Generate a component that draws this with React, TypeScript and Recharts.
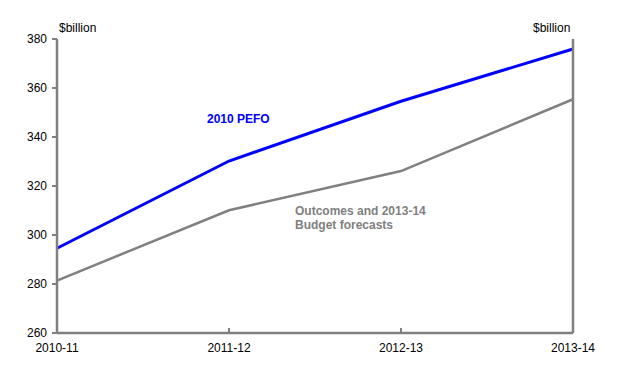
import React from "react";
import { LineChart, Line, XAxis, YAxis } from "recharts";

const years = ["2010-11", "2011-12", "2012-13", "2013-14"];
const pefo2010 = [294.6, 330.2, 354.6, 375.9];
const outcomes = [281.4, 310.1, 326.1, 355.4];
const yTicks = [260, 280, 300, 320, 340, 360, 380];

const AXIS = "#808080";
const FONT = "'Liberation Sans', Arial, sans-serif";

const chartData = years.map((y, i) => ({
  year: y,
  pefo: pefo2010[i],
  outcomes: outcomes[i],
}));

const tickStyle = { fill: "#000", fontSize: 12, fontFamily: FONT };

export default function App() {
  return (
    <div style={{ position: "absolute", left: 0, top: 0, width: 631, height: 379, background: "#fff", fontFamily: FONT }}>
      <LineChart
        width={631}
        height={379}
        data={chartData}
        margin={{ top: 39, right: 0, bottom: 0, left: 0 }}
      >
        <XAxis
          dataKey="year"
          height={46}
          padding={{ left: 0, right: 0 }}
          axisLine={{ stroke: AXIS, strokeWidth: 2.5 }}
          tickLine={{ stroke: AXIS, strokeWidth: 2 }}
          tickSize={-5}
          tickMargin={15}
          tick={tickStyle}
          interval={0}
        />
        <YAxis
          yAxisId="left"
          orientation="left"
          width={57}
          domain={[260, 380]}
          ticks={yTicks}
          axisLine={{ stroke: AXIS, strokeWidth: 2.5 }}
          tickLine={{ stroke: AXIS, strokeWidth: 2 }}
          tickSize={5}
          tickMargin={5}
          tick={tickStyle}
          interval={0}
        />
        <YAxis
          yAxisId="right"
          orientation="right"
          width={58}
          domain={[260, 380]}
          ticks={yTicks}
          axisLine={{ stroke: AXIS, strokeWidth: 2.5 }}
          tickLine={{ stroke: AXIS, strokeWidth: 2 }}
          tickSize={-5}
          tickMargin={16}
          tick={tickStyle}
          interval={0}
        />
        <Line
          yAxisId="left"
          type="linear"
          dataKey="outcomes"
          stroke="#808080"
          strokeWidth={2.5}
          dot={false}
          isAnimationActive={false}
        />
        <Line
          yAxisId="left"
          type="linear"
          dataKey="pefo"
          stroke="#0000ff"
          strokeWidth={3}
          dot={false}
          isAnimationActive={false}
        />
      </LineChart>
      <div style={{ position: "absolute", left: 59, top: 21, fontSize: 12, color: "#000" }}>$billion</div>
      <div style={{ position: "absolute", left: 533, top: 21, fontSize: 12, color: "#000" }}>$billion</div>
      <div style={{ position: "absolute", left: 207, top: 112, fontSize: 12, fontWeight: "bold", color: "#0000ff" }}>
        2010 PEFO
      </div>
      <div style={{ position: "absolute", left: 295, top: 204, fontSize: 12, fontWeight: "bold", color: "#808080", lineHeight: "14px" }}>
        Outcomes and 2013-14
        <br />
        Budget forecasts
      </div>
    </div>
  );
}
